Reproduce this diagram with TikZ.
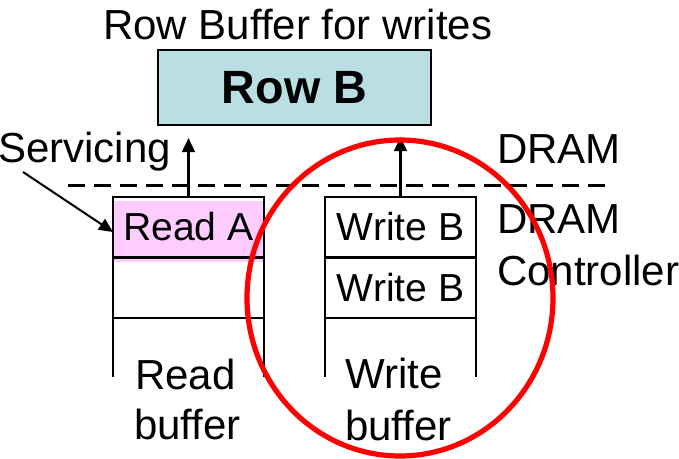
\documentclass[tikz,border=0pt]{standalone}
\usepackage{fontspec}
\setmainfont{Liberation Sans}
\usetikzlibrary{arrows.meta}
\definecolor{rowfill}{RGB}{185,223,226}
\definecolor{readfill}{RGB}{255,204,255}
\begin{document}
\begin{tikzpicture}[x=0.75pt,y=-0.75pt,
  lbl/.style={inner sep=0pt, anchor=base west, font=\fontsize{31.5}{36}\selectfont},
  cell/.style={draw, line width=1.5pt, minimum width=113.25pt, minimum height=45pt,
    inner sep=0pt, outer sep=0pt, font=\fontsize{29.3}{34}\selectfont},
  wall/.style={line width=1.5pt},
  arr/.style={line width=1.9pt, -{Triangle[length=10.5pt,width=9.5pt]}}
]
\useasboundingbox (0,0) rectangle (679,458);

% title and row buffer
\node[lbl] (title) at (103,39) {Row Buffer for writes};
\node[draw, line width=1.5pt, fill=rowfill, minimum width=204.75pt, minimum height=56.25pt,
  inner sep=0pt, outer sep=0pt, font=\bfseries\fontsize{35}{40}\selectfont] (rowB) at (294.5,87.5) {Row B};

% boundary between DRAM and controller
\draw[line width=2.25pt, dash pattern=on 12.5pt off 7pt] (68,185) coordinate (dl) -- (612,185) coordinate (dr);

% side labels
\node[lbl] (serv) at (-2,162) {Servicing};
\node[lbl] (dram) at (497,163) {DRAM};
\node[lbl] (dram2) at (497,233) {DRAM};
\node[lbl] (ctrl) at (497,285) {Controller};

% read buffer
\fill[readfill] (114,201) rectangle (264,262);
\node[cell] (rA) at (188.5,227) {Read A};
\node[cell] (rB) at (188.5,287.5) {};
\coordinate (rL) at (113,377);
\coordinate (rR) at (264,377);
\draw[wall] (rB.south west) -- (rL);
\draw[wall] (rB.south east) -- (rR);
\node[lbl] (rlab1) at (135,389) {Read};
\node[lbl] (rlab2) at (134,439) {buffer};

% write buffer
\node[cell] (wA) at (400.5,227) {Write B};
\node[cell] (wB) at (400.5,287.5) {Write B};
\coordinate (wL) at (325,377);
\coordinate (wR) at (476,377);
\draw[wall] (wB.south west) -- (wL);
\draw[wall] (wB.south east) -- (wR);
\node[lbl] (wlab1) at (345,388) {Write};
\node[lbl] (wlab2) at (345,440) {buffer};

% requests sent to DRAM
\draw[arr, shorten >=9.75pt] (rA.north) -- (rA.north |- rowB.south);
\draw[arr, shorten >=9pt] (wA.north) -- (wA.north |- rowB.south);

% servicing pointer
\coordinate (sv) at (23,172);
\draw[arr, line width=1.5pt] (sv) -- ([yshift=-3.75pt]rA.west);

% highlight around the write buffer
\draw[red, line width=3.9pt] (400,298) ellipse [x radius=114.75pt, y radius=118.5pt];
\end{tikzpicture}
\end{document}
